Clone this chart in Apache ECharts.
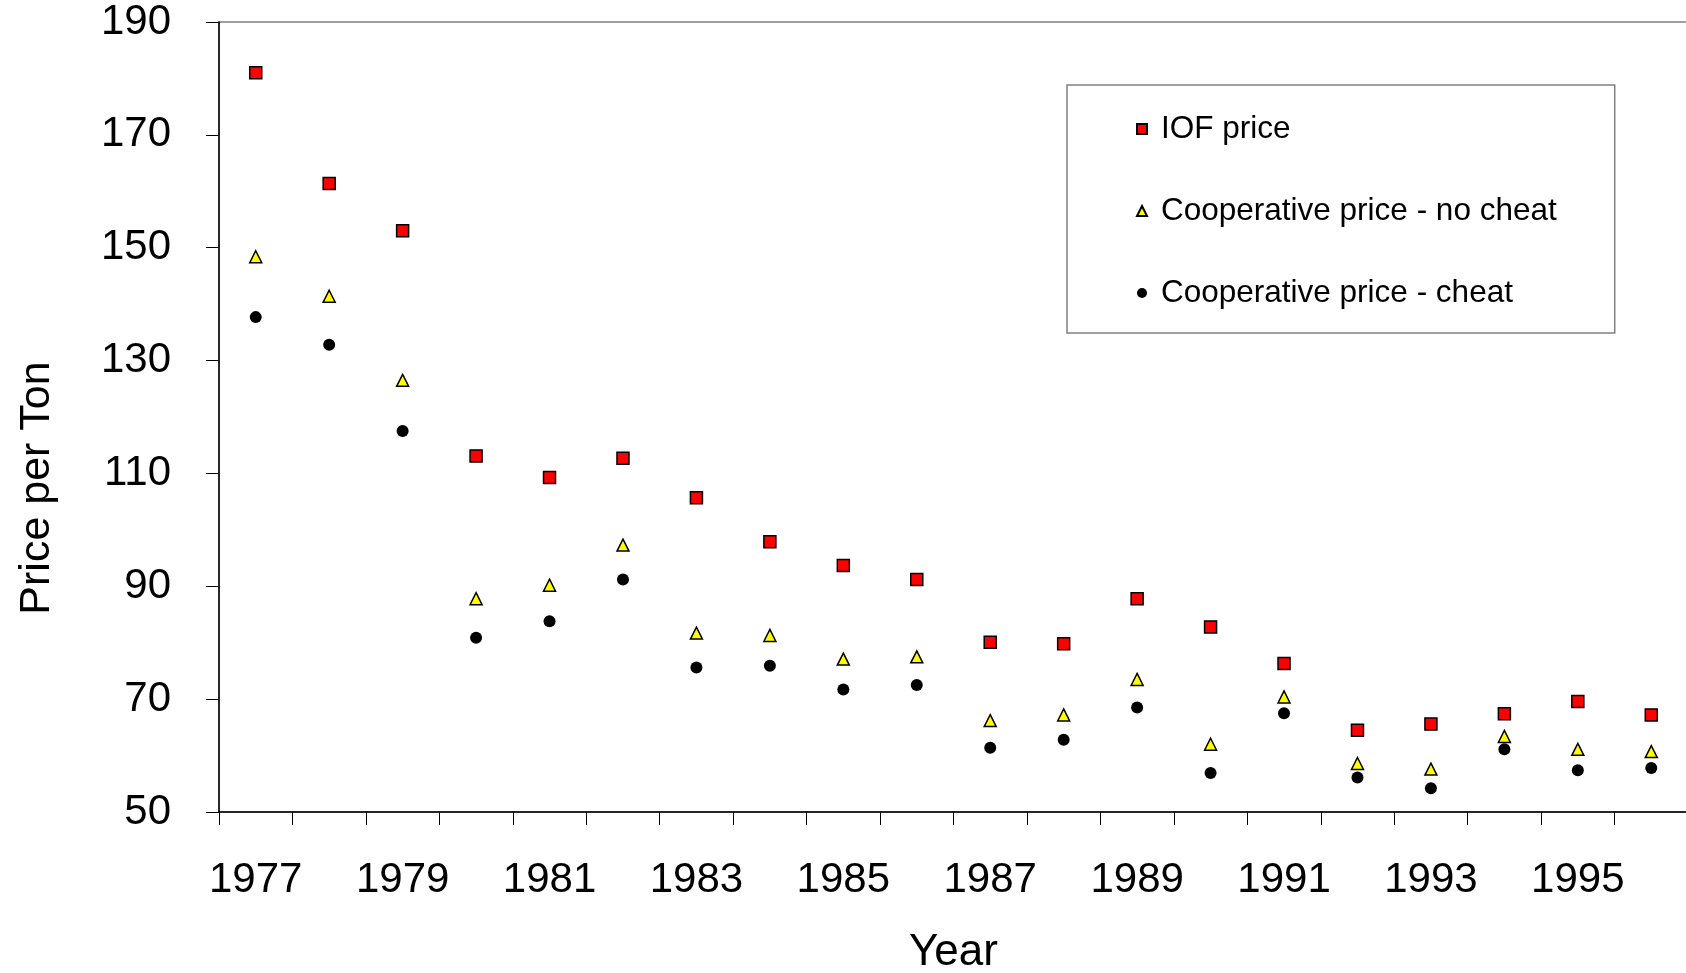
<!DOCTYPE html>
<html>
<head>
<meta charset="utf-8">
<script src="https://cdn.jsdelivr.net/npm/echarts@6/dist/echarts.min.js"></script>
<style>
html,body{margin:0;padding:0;background:#fff;}
#chart{width:1686px;height:973px;}
</style>
</head>
<body>
<div id="chart"></div>
<script>
const years = ['1977','1978','1979','1980','1981','1982','1983','1984','1985','1986','1987','1988','1989','1990','1991','1992','1993','1994','1995','1996'];
const iofPrice = [181.0,161.4,153.0,113.1,109.3,112.7,105.7,97.9,93.7,91.2,80.1,79.8,87.8,82.8,76.3,64.5,65.6,67.4,69.6,67.2];
const coopNoCheat = [148.4,141.4,126.5,87.8,90.2,97.3,81.7,81.3,77.1,77.5,66.2,67.2,73.5,62.0,70.4,58.6,57.6,63.4,61.1,60.7];
const coopCheat = [137.7,132.8,117.5,80.9,83.8,91.2,75.6,75.9,71.7,72.5,61.4,62.8,68.5,56.9,67.5,56.1,54.2,61.1,57.4,57.8];
const seriesNames = ['IOF price','Cooperative price - no cheat','Cooperative price - cheat'];

const FONT = "'Liberation Sans', Arial, sans-serif";
const chart = echarts.init(document.getElementById('chart'));
chart.setOption({
  animation: false,
  backgroundColor: '#ffffff',
  grid: {left: 219, top: 22, right: -2, bottom: 161, show: true, borderColor: '#808080', borderWidth: 1.5,
         containLabel: false, outerBoundsMode: 'none'},
  legend: {
    orient: 'vertical',
    left: 1067, top: 85,
    padding: [28, 58, 24, 69],
    itemGap: 50,
    itemWidth: 10, itemHeight: 10,
    borderColor: '#808080', borderWidth: 1.5,
    textStyle: {fontFamily: FONT, fontSize: 31.5, color: '#000', padding: [0,0,0,9]},
    data: [
      {name: seriesNames[0], icon: 'rect'},
      {name: seriesNames[1], icon: 'triangle'},
      {name: seriesNames[2], icon: 'circle'}
    ]
  },
  xAxis: {
    type: 'category',
    data: years,
    boundaryGap: true,
    name: 'Year', nameLocation: 'middle', nameGap: 119,
    nameTextStyle: {fontFamily: FONT, fontSize: 44, color: '#000'},
    axisLine: {lineStyle: {color: '#000', width: 1.5}},
    axisTick: {show: true, interval: 0, length: 13, inside: false, lineStyle: {color: '#000', width: 1}},
    axisLabel: {interval: 1, margin: 47, fontFamily: FONT, fontSize: 42, color: '#000'},
    splitLine: {show: false}
  },
  yAxis: {
    type: 'value',
    min: 50, max: 190, interval: 20,
    name: 'Price per Ton', nameLocation: 'middle', nameGap: 160, nameRotate: 90,
    nameTextStyle: {fontFamily: FONT, fontSize: 43, color: '#000', padding: [0, 142, 0, 0]},
    axisLine: {show: true, lineStyle: {color: '#000', width: 1.5}},
    axisTick: {show: true, length: 13, inside: false, lineStyle: {color: '#000', width: 1}},
    axisLabel: {margin: 48, fontFamily: FONT, fontSize: 42, color: '#000'},
    splitLine: {show: false}
  },
  series: [
    {name: seriesNames[0], type: 'scatter', data: iofPrice, symbol: 'rect', symbolSize: 12,
     itemStyle: {color: '#ff0000', borderColor: '#000', borderWidth: 1.5, opacity: 1}},
    {name: seriesNames[1], type: 'scatter', data: coopNoCheat, symbol: 'triangle', symbolSize: 12,
     itemStyle: {color: '#ffff00', borderColor: '#000', borderWidth: 1.5, opacity: 1}},
    {name: seriesNames[2], type: 'scatter', data: coopCheat, symbol: 'circle', symbolSize: 12,
     itemStyle: {color: '#000000', borderColor: '#000', borderWidth: 0, opacity: 1}}
  ]
});
</script>
</body>
</html>
